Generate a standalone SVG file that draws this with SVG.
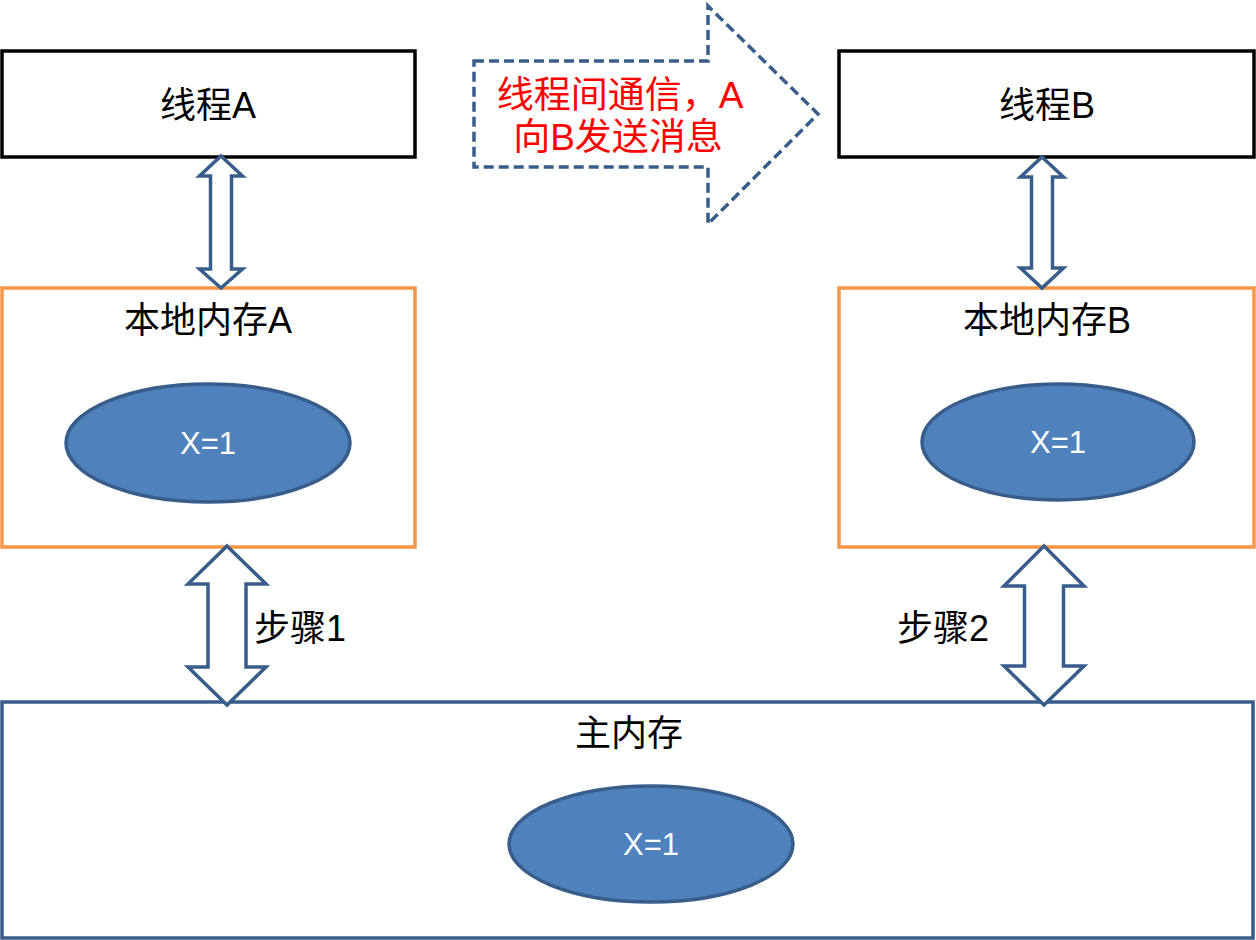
<svg xmlns="http://www.w3.org/2000/svg" width="1256" height="940" viewBox="0 0 1256 940">
<style>
.thread{fill:#fff;stroke:#000;stroke-width:3.5}
.local{fill:#fff;stroke:#F79646;stroke-width:3.5}
.main{fill:#fff;stroke:#385D8A;stroke-width:3.5}
.ell{fill:#4F81BD;stroke:#385D8A;stroke-width:3.5}
.arr{fill:#fff;stroke:#385D8A;stroke-width:3.5;stroke-linejoin:miter}
.dash{fill:#fff;stroke:#385D8A;stroke-width:3.5;stroke-dasharray:10 5}
text{font-family:"Liberation Sans","Noto Sans CJK SC",sans-serif;font-size:36px;text-anchor:middle}
.lbl{fill:#000}
.red{fill:#FF0000;font-size:37px}
.wt{fill:#fff;font-size:31px}
</style>
<rect width="1256" height="940" fill="#fff"/>
<g id="threadA"><rect class="thread" x="2" y="51" width="413" height="106"/><text class="lbl" x="208" y="118">线程A</text></g>
<g id="threadB"><rect class="thread" x="839" y="51" width="415" height="106"/><text class="lbl" x="1047" y="118">线程B</text></g>
<g id="localA"><rect class="local" x="2" y="288" width="413" height="259"/><text class="lbl" x="208" y="333">本地内存A</text>
<ellipse class="ell" cx="208" cy="443" rx="142" ry="59"/><text class="wt" x="208" y="454">X=1</text></g>
<g id="localB"><rect class="local" x="839" y="288" width="415" height="259"/><text class="lbl" x="1047" y="333">本地内存B</text>
<ellipse class="ell" cx="1058" cy="442" rx="136" ry="58"/><text class="wt" x="1058" y="453">X=1</text></g>
<g id="mainMem"><rect class="main" x="2" y="702" width="1251" height="236"/><text class="lbl" x="629" y="746">主内存</text>
<ellipse class="ell" cx="651" cy="844" rx="142" ry="58"/><text class="wt" x="651" y="855">X=1</text></g>
<g id="connectors">
<path class="arr" d="M221,156 L242.5,176 L231.5,176 L231.5,269 L242.5,269 L221,288 L199.5,269 L210.5,269 L210.5,176 L199.5,176 Z"/>
<path class="arr" d="M1042,157 L1063.5,177 L1052.5,177 L1052.5,268 L1063.5,268 L1042,288 L1020.5,268 L1031.5,268 L1031.5,177 L1020.5,177 Z"/>
<path class="arr" d="M227,546 L266,584 L246,584 L246,667 L266,667 L227,705 L188,667 L208,667 L208,584 L188,584 Z"/>
<path class="arr" d="M1044,546 L1084,586 L1063.5,586 L1063.5,666 L1084,666 L1044,705 L1004,666 L1024.5,666 L1024.5,586 L1004,586 Z"/>
<g id="message"><path class="dash" d="M474,61 L708,61 L708,6 L818,114 L708,224 L708,167 L474,167 Z"/>
<text class="red" x="620" y="108">线程间通信，A</text>
<text class="red" x="618" y="150">向B发送消息</text></g>
<text class="lbl" x="300" y="641">步骤1</text>
<text class="lbl" x="943" y="641">步骤2</text>
</g>
</svg>
